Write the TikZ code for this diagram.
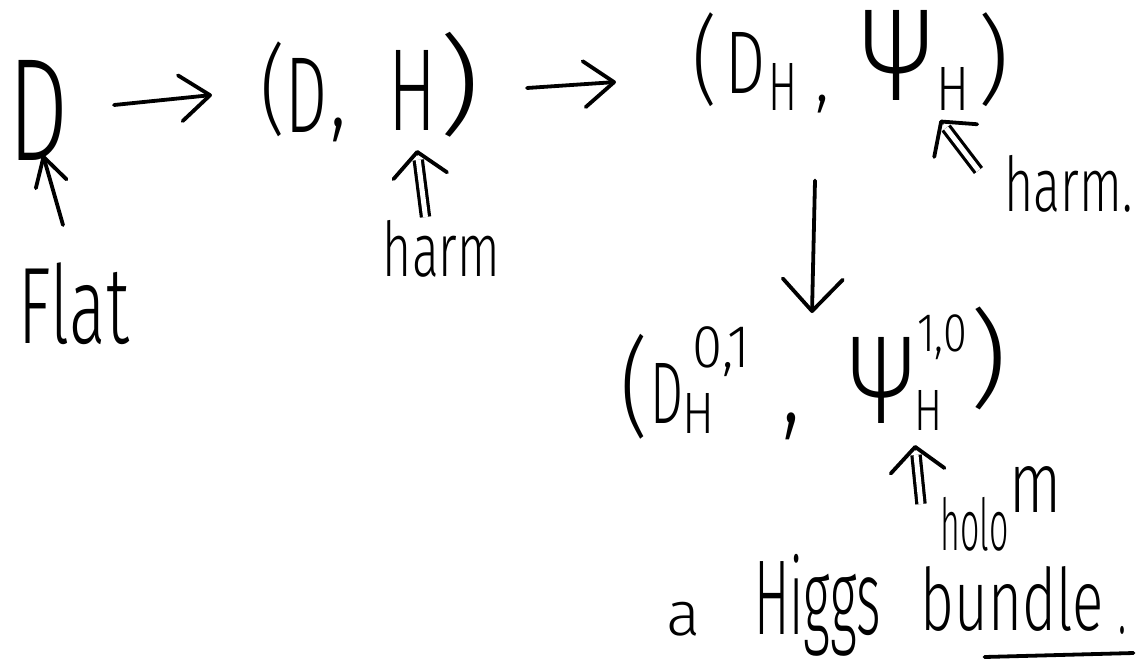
\documentclass[tikz,border=0pt]{standalone}
\usepackage{graphicx}
\usepackage{fontspec}
\newfontfamily\hand{Fira Sans Light}
\usetikzlibrary{arrows.meta,calc}
\newcommand{\hw}[3]{\resizebox*{#1}{#2}{\hand #3}}
\tikzset{
  txt/.style={inner sep=0pt, outer sep=0pt},
  pen/.style={line width=3.8pt, line cap=round, line join=round},
  sarrow/.style={pen, -{Straight Barb[length=30pt,width=46pt,round]}},
  darrowshaft/.style={line width=3.2pt, double, double distance=5pt, line cap=butt, shorten >=10pt},
  darrowhead/.style={pen, -{Straight Barb[length=24pt,width=54pt,round]}},
}
\begin{document}
\begin{tikzpicture}[x=1pt,y=-1pt]
\fill[white] (0,0) rectangle (1138,662);
\useasboundingbox (0,0) rectangle (1138,662);

% top row
\node[txt] (D1) at (39,110) {\hw{60pt}{100pt}{D}};
\node[txt] (pA) at (273.5,89.5) {\hw{25pt}{95pt}{(}};
\node[txt] (D2) at (307,95) {\hw{42pt}{74pt}{D}};
\node[txt] (cA) at (339,130) {\hw{16pt}{24pt}{,}};
\node[txt] (H2) at (412.5,90) {\hw{48pt}{80pt}{H}};
\node[txt] (pB) at (460,84.5) {\hw{42pt}{105pt}{)}};

\node[txt] (pC) at (705,60) {\hw{25pt}{94pt}{(}};
\node[txt] (D3) at (746,62.5) {\hw{40pt}{61pt}{D}};
\node[txt] (sH3) at (783,86.5) {\hw{29pt}{47pt}{H}};
\node[txt] (cB) at (822,104.5) {\hw{14pt}{18pt}{,}};
\node[txt] (Psi1) at (897,55) {\hw{70pt}{90pt}{Ψ}};
\node[txt] (sH4) at (952.5,88.5) {\hw{33pt}{43pt}{H}};
\node[txt] (pD) at (993.5,60) {\hw{32pt}{94pt}{)}};

% labels
\node[txt] (harm1) at (1068.5,183.5) {\hw{128pt}{57pt}{harm.}};
\node[txt] (harm2) at (441.5,248.5) {\hw{117pt}{57pt}{harm}};
\node[txt] (flat) at (74,304) {\hw{110pt}{82pt}{Flat}};

% lower tuple
\node[txt] (pE) at (635,387) {\hw{28pt}{105pt}{(}};
\node[txt] (D4) at (667.5,393) {\hw{33pt}{60pt}{D}};
\node[txt] (sup01) at (721.5,352) {\hw{58pt}{50pt}{0,1}};
\node[txt] (sH5) at (698,413) {\hw{32pt}{40pt}{H}};
\node[txt] (cC) at (791.5,426.5) {\hw{18pt}{27pt}{,}};
\node[txt] (Psi2) at (881.5,380) {\hw{64pt}{86pt}{Ψ}};
\node[txt] (sup10) at (942,337.5) {\hw{50pt}{45pt}{1,0}};
\node[txt] (sH6) at (928,410) {\hw{28pt}{40pt}{H}};
\node[txt] (pF) at (988,358.5) {\hw{38pt}{103pt}{)}};

\node[txt] (holo) at (974.5,524.5) {\hw{68pt}{54pt}{holo}};
\node[txt] (msup) at (1035,489) {\hw{52pt}{46pt}{m}};

\node[txt] (a) at (683.5,619) {\hw{34pt}{34pt}{a}};
\node[txt] (higgs) at (817.5,605) {\hw{127pt}{102pt}{Higgs}};
\node[txt] (bundle) at (1012,598.5) {\hw{183pt}{65pt}{bundle}};
\node[txt] (dot) at (1122,630) {\hw{8pt}{8pt}{.}};

% horizontal arrows
\draw[sarrow] ($(D1.east)+(45,-5)$) -- ($(pA.west)+(-49,5.5)$);
\draw[sarrow] ($(pB.east)+(46,3.5)$) -- ($(pC.west)+(-76.5,22)$);
% down arrow
\draw[pen, -{Straight Barb[length=32pt,width=60pt,round]}] ($(cB.south)+(-7,67)$) -- ($(sup01.east)+(61.5,-39)$);
% arrow from Flat to D
\draw[pen, -{Straight Barb[length=28pt,width=32pt,round]}] ($(flat.north)+(-11,-38)$) -- ($(D1.south)+(4,-5)$);

% double arrows
\coordinate (tip5) at ($(H2.south)+(4.5,20)$);
\draw[darrowshaft] ($(harm2.north)+(-16,-3)$) -- (tip5) coordinate[pos=0.96] (n5);
\draw[darrowhead] (n5) -- (tip5);

\coordinate (tip6) at ($(sH4.south)+(-12.5,10)$);
\draw[darrowshaft] ($(harm1.west)+(-26,-13)$) -- (tip6) coordinate[pos=0.96] (n6);
\draw[darrowhead] (n6) -- (tip6);

\coordinate (tip7) at ($(sH6.south)+(-13,15)$);
\draw[darrowshaft] ($(holo.west)+(-19.5,-20.5)$) -- (tip7) coordinate[pos=0.96] (n7);
\draw[darrowhead] (n7) -- (tip7);

% underline
\draw[pen] ($(bundle.south west)+(64,26)$) -- ($(bundle.south east)+(30,22)$);
\end{tikzpicture}
\end{document}
